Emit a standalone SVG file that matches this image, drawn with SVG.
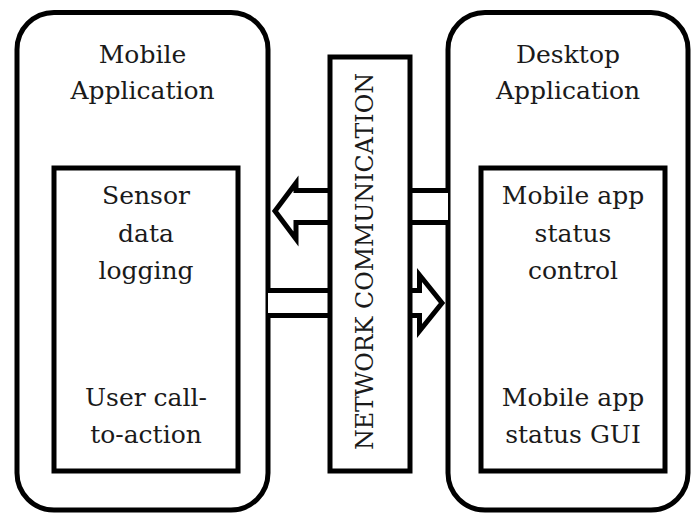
<svg xmlns="http://www.w3.org/2000/svg" width="691" height="514" viewBox="0 0 691 514">
  <style>
    .box { fill: #ffffff; stroke: #000000; stroke-width: 5; }
    .arrow { fill: #ffffff; stroke: #000000; stroke-width: 5; stroke-linejoin: miter; }
    .label { font-family: "DejaVu Serif", "Liberation Serif", serif; font-size: 25px; fill: #1a1a1a; text-anchor: middle; }
  </style>
  <rect width="691" height="514" fill="#ffffff"/>

  <!-- Mobile application container -->
  <g id="mobile-app">
    <rect class="box" x="17" y="12.5" width="251" height="497.5" rx="37" ry="37"/>
    <text class="label" x="142.5" y="63">Mobile</text>
    <text class="label" x="142.5" y="99">Application</text>
  </g>

  <!-- Desktop application container -->
  <g id="desktop-app">
    <rect class="box" x="448" y="12.5" width="240" height="497.5" rx="37" ry="37"/>
    <text class="label" x="568" y="63">Desktop</text>
    <text class="label" x="568" y="99">Application</text>
  </g>

  <!-- Data flow arrows -->
  <g id="connectors">
    <path class="arrow" d="M448,190.5 H296 V183 L275,211 L296,239 V222.5 H448"/>
    <path class="arrow" d="M268,290.5 H419.5 V275 L442,303 L419.5,331 V315.5 H268"/>
  </g>

  <!-- Network communication channel -->
  <g id="network">
    <rect class="box" x="330" y="57" width="80" height="414"/>
    <text class="label" transform="translate(373,261.5) rotate(-90)" x="0" y="0" textLength="377" lengthAdjust="spacingAndGlyphs">NETWORK COMMUNICATION</text>
  </g>

  <!-- Mobile application modules -->
  <g id="mobile-modules">
    <rect class="box" x="54" y="168" width="184" height="303"/>
    <text class="label" x="146" y="204">Sensor</text>
    <text class="label" x="146" y="242">data</text>
    <text class="label" x="146" y="279">logging</text>
    <text class="label" x="146" y="406">User call-</text>
    <text class="label" x="146" y="443">to-action</text>
  </g>

  <!-- Desktop application modules -->
  <g id="desktop-modules">
    <rect class="box" x="481" y="168" width="184" height="303"/>
    <text class="label" x="573" y="204">Mobile app</text>
    <text class="label" x="573" y="242">status</text>
    <text class="label" x="573" y="279">control</text>
    <text class="label" x="573" y="406">Mobile app</text>
    <text class="label" x="573" y="443">status GUI</text>
  </g>
</svg>
